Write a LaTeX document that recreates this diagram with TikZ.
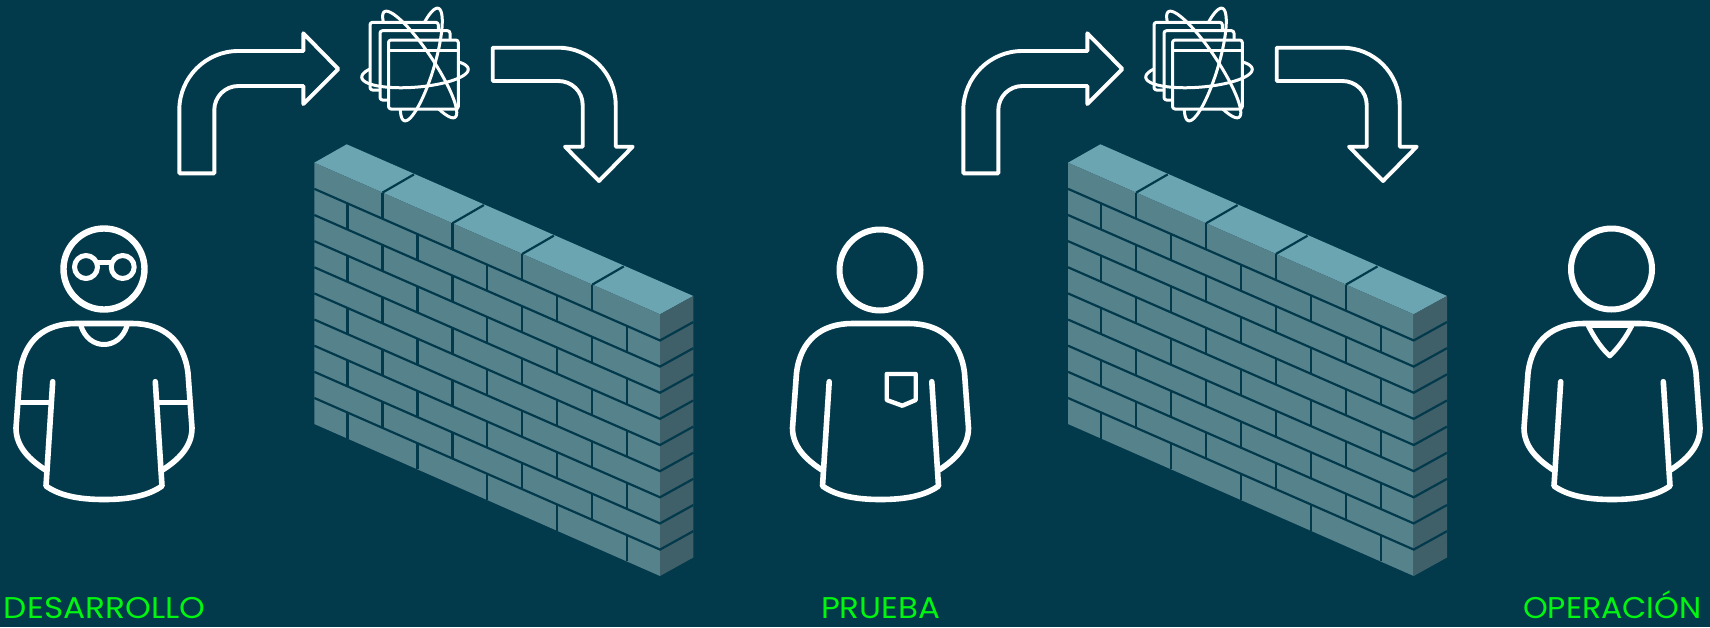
\documentclass[tikz,border=0pt]{standalone}
\usepackage{fontspec}
\setmainfont{Poppins}
\definecolor{bg}{HTML}{023A4C}
\definecolor{walltop}{HTML}{6BA5B1}
\definecolor{wallfront}{HTML}{56828C}
\definecolor{wallside}{HTML}{3F5F69}
\definecolor{lbl}{HTML}{00F511}
\tikzset{
  ln/.style={draw=white,line width=#1,line cap=round,line join=round},
  ln/.default=5,
  jointline/.style={draw=bg,line width=2.2pt,line cap=butt},
  windowbox/.style={ln=3,fill=bg,rounded corners=2.5pt},
  labeltext/.style={text=lbl,font=\fontsize{30}{32}\selectfont,anchor=base west,inner sep=0pt,outer sep=0pt,transform shape}
}
\newcommand\wallshape{%
  \fill[walltop] (314.3,162.7)--(346.7,144.3)--(693.3,296)--(660,314.3)--cycle;
  \fill[wallfront] (314.3,162.7)--(660,314.3)--(660,576)--(314.3,424)--cycle;
  \fill[wallside] (660,314.3)--(693.3,296)--(693.3,557.5)--(660,576)--cycle;
  \foreach \k in {1,...,9}{
    \pgfmathsetmacro\ya{162.7+\k*26.14}
    \pgfmathsetmacro\yb{314.3+\k*26.14}
    \draw[jointline] (314.3,\ya)--(660,\yb)--(693.3,\yb-18.4);
  }
  \foreach \k in {0,2,4,6,8}{
    \foreach \x in {382.5,452.4,522.3,592.3}{
      \pgfmathsetmacro\ya{162.7+(\x-314.3)*0.4385+\k*26.14}
      \draw[jointline] (\x,\ya)--(\x,\ya+26.14);
    }
  }
  \foreach \k in {1,3,5,7,9}{
    \foreach \x in {347.5,417.4,487.3,557.3,627}{
      \pgfmathsetmacro\ya{162.7+(\x-314.3)*0.4385+\k*26.14}
      \draw[jointline] (\x,\ya)--(\x,\ya+26.14);
    }
  }
  \foreach \x in {382.5,452.4,522.3,592.3}{
    \pgfmathsetmacro\ya{162.7+(\x-314.3)*0.4385}
    \draw[jointline] (\x,\ya)--(\x+31.5,\ya-18.2);
  }
}
\newcommand\bodyshape{%
  \draw[ln=5.6] (45.5,470) .. controls (30,460) and (16,447) .. (16,428)
    -- (20,373) .. controls (24,340) and (45,323.5) .. (76,323.5) -- (132,323.5)
    .. controls (163,323.5) and (184,340) .. (188,373) -- (192,428)
    .. controls (192,447) and (178,460) .. (162.5,470);
  \draw[ln=5.6] (52.7,381.7) -- (46,486) .. controls (60,496) and (80,499.5) .. (104,499.5)
    .. controls (128,499.5) and (148,496) .. (162,486) -- (155.3,381.7);
}
% #1 centre, #2 tilt, #3 a, #4 b, #5:#6 angular range
\newcommand\orbit[6]{%
  \begin{scope}[shift={#1},rotate=#2,x=1pt,y=1pt]
    \draw[ln=3] plot[smooth,domain=#5:#6,samples=73] ({#3*cos(\x)},{#4*sin(\x)});
  \end{scope}
}
\newcommand\flowicons{%
  \draw[ln=3.9] (179.3,173.3) -- (214.3,173.3) -- (214.3,110)
    .. controls (214.3,96.8) and (225.1,86) .. (238.3,86) -- (303.3,86) -- (303.3,104)
    -- (338.3,69) -- (303.3,33.3) -- (303.3,51) -- (238.3,51)
    .. controls (205.8,51) and (179.3,77.5) .. (179.3,110) -- cycle;
  \draw[ln=3.9] (492.7,47.7) -- (558.3,47.7) .. controls (590,47.7) and (615.7,73.4) .. (615.7,105)
    -- (615.7,146.7) -- (632.7,146.7) -- (599,181) -- (565,146.7) -- (582.7,146.7) -- (582.7,105)
    .. controls (582.7,91.5) and (571.8,81) .. (558.3,81) -- (492.7,81) -- cycle;
  % far sides of the orbits pass behind the windows
  \orbit{(415,73.2)}{4.45}{53.4}{14}{0}{180}
  \orbit{(419.7,64.5)}{-56.2}{63.5}{13.5}{180}{360}
  \orbit{(421.3,64.5)}{73.2}{58.7}{12.9}{0}{180}
  \draw[windowbox] (370,22.3) rectangle (438.3,90);
  \draw[windowbox] (380,30.7) rectangle (450,100);
  \draw[windowbox] (388.5,40) rectangle (458.3,109);
  \draw[ln=3] (388.5,50.7) -- (458.3,50.7);
  % near sides in front
  \orbit{(415,73.2)}{4.45}{53.4}{14}{180}{360}
  \orbit{(419.7,64.5)}{-56.2}{63.5}{13.5}{0}{180}
  \orbit{(421.3,64.5)}{73.2}{58.7}{12.9}{180}{360}
}
\begin{document}
\begin{tikzpicture}[x=1pt,y=-1pt]
  \useasboundingbox (0,0) rectangle (1710,627);
  \fill[bg] (0,0) rectangle (1710,627);

  % walls
  \wallshape
  \begin{scope}[shift={(753.7,0)}]\wallshape\end{scope}

  % arrows and stacks
  \flowicons
  \begin{scope}[shift={(784,0)}]\flowicons\end{scope}

  % developer
  \bodyshape
  \draw[ln=6.4] (104,269) circle [radius=40.5];
  \draw[ln=5] (86,267) circle [radius=11.5];
  \draw[ln=5] (122.7,267) circle [radius=11.5];
  \draw[ln=5] (97.5,262) -- (111,262);
  \draw[ln=5] (20,402.3) -- (50,402.3);
  \draw[ln=5] (157,402.3) -- (187,402.3);
  \draw[ln=5] (81,326) .. controls (85,338) and (94,344.5) .. (104,344.5)
     .. controls (114,344.5) and (123,338) .. (127,326);

  % tester
  \begin{scope}[shift={(776.5,0)}]\bodyshape\end{scope}
  \draw[ln=6] (880,270) circle [radius=40.5];
  \draw[ln=4.4] (886.7,374) -- (915.7,374) -- (915.7,400) -- (902.3,405.7) -- (886.7,400) -- cycle;

  % operator
  \begin{scope}[shift={(1508,0)}]\bodyshape\end{scope}
  \draw[ln=6] (1611.5,269) circle [radius=40.5];
  \draw[ln=4.8] (1588.3,326) .. controls (1595,339) and (1602,349) .. (1609.8,356)
     .. controls (1617,349) and (1625,339) .. (1631.7,326);
  \draw[ln=3.5] (1588.3,326) -- (1631.7,326);

  % labels
  \node[labeltext,xscale=1.094] (devlabel) at (4,618) {DESARROLLO};
  \node[labeltext,xscale=1.085] (testlabel) at (821,618) {PRUEBA};
  \node[labeltext,xscale=1.05] (oplabel) at (1523,618) {OPERACIÓN};
\end{tikzpicture}
\end{document}
